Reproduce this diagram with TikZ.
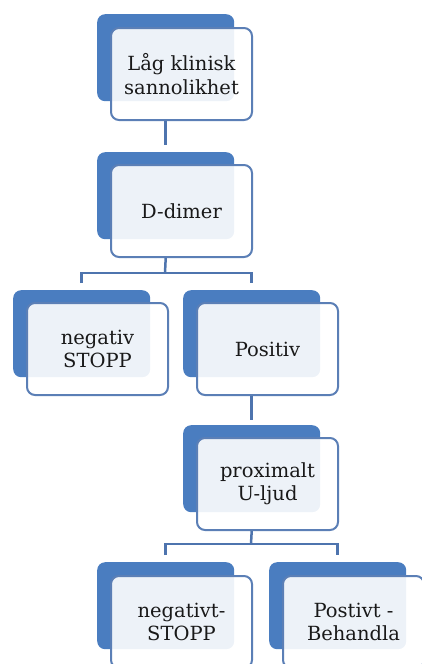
\documentclass[tikz,border=0pt]{standalone}
\usepackage{fontspec}
\setmainfont{DejaVu Serif}
\usetikzlibrary{positioning}
\definecolor{tileBlue}{HTML}{4A7DC0}
\definecolor{edgeBlue}{HTML}{5B7FB6}
\definecolor{linkBlue}{HTML}{4E74AE}

\begin{document}
\begin{tikzpicture}[x=1pt,y=-1pt,
            backbox/.style={fill=tileBlue,rounded corners=8pt,anchor=north west,
                        minimum width=137pt,minimum height=87pt,inner sep=0pt},
            frontbox/.style={draw=edgeBlue,line width=2pt,fill=white,fill opacity=0.9,text opacity=1,
                        rounded corners=8pt,anchor=north west,
                        minimum width=141pt,minimum height=92pt,align=center,
                        font=\fontsize{19.5}{23.5}\selectfont,text=black!90},
            link/.style={draw=linkBlue,line width=2.5pt}]
            \useasboundingbox (0,0) rectangle (421,664);
            % tiles
            \node[backbox] (b1) at (97,14) {};
            \node[frontbox] (f1) at ([xshift=13pt,yshift=-13pt]b1.north west) {Låg klinisk\\sannolikhet};
            \node[backbox] (b2) at (97,152) {};
            \node[frontbox] (f2) at ([xshift=13pt,yshift=-12pt]b2.north west) {D-dimer};
            \node[backbox] (b3) at (13,290) {};
            \node[frontbox] (f3) at ([xshift=13pt,yshift=-12pt]b3.north west) {negativ\\STOPP};
            \node[backbox] (b4) at (183,290) {};
            \node[frontbox] (f4) at ([xshift=13pt,yshift=-12pt]b4.north west) {Positiv};
            \node[backbox] (b5) at (183,425) {};
            \node[frontbox] (f5) at ([xshift=13pt,yshift=-12pt]b5.north west) {proximalt\\U-ljud};
            \node[backbox] (b6) at (97,562) {};
            \node[frontbox] (f6) at ([xshift=13pt,yshift=-13pt]b6.north west) {negativt-\\STOPP};
            \node[backbox] (b7) at (269,562) {};
            \node[frontbox] (f7) at ([xshift=13pt,yshift=-13pt]b7.north west) {Postivt -\\Behandla};
            % joints
            \coordinate (j1) at (165,273);
            \coordinate (j2) at (251,544);
            % links
            \draw[link,shorten >=7pt] (b1 |- f1.south) -- (b2.north);
            \draw[link] (b2 |- f2.south) -- (j1);
            \draw[link] ([yshift=7pt]b3.north) |- (j1) -| ([yshift=7pt]b4.north);
            \draw[link,shorten >=5pt] (b4 |- f4.south) -- (b5.north);
            \draw[link] (b5 |- f5.south) -- (j2);
            \draw[link] ([yshift=7pt]b6.north) |- (j2) -| ([yshift=7pt]b7.north);
        \end{tikzpicture}
\end{document}
